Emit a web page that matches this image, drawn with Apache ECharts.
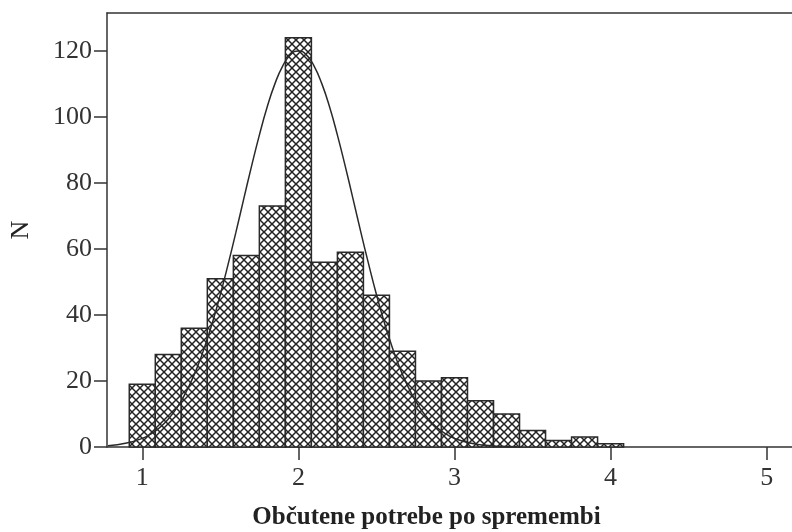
<!DOCTYPE html>
<html>
<head>
<meta charset="utf-8">
<script src="https://cdn.jsdelivr.net/npm/echarts@6/dist/echarts.min.js"></script>
<style>html,body{margin:0;padding:0;background:#fff}#c{width:792px;height:532px}</style>
</head>
<body>
<div id="c"></div>
<script>
// Histogram bins (centres) and counts
var binCenters = [1.0, 1.1667, 1.3333, 1.5, 1.6667, 1.8333, 2.0, 2.1667, 2.3333, 2.5, 2.6667, 2.8333, 3.0, 3.1667, 3.3333, 3.5, 3.6667, 3.8333, 4.0];
var binCounts  = [19, 28, 36, 51, 58, 73, 124, 56, 59, 46, 29, 20, 21, 14, 10, 5, 2, 3, 1];
var binWidth = 1 / 6;
// Normal curve points
var curveX = [0.78, 0.9, 1.0, 1.05, 1.1, 1.15, 1.2, 1.25, 1.3, 1.35, 1.4, 1.45, 1.5, 1.55, 1.6, 1.65, 1.7, 1.75, 1.8, 1.85, 1.9, 1.95, 2.0,
              2.05, 2.1, 2.15, 2.2, 2.25, 2.3, 2.35, 2.4, 2.45, 2.5, 2.55, 2.6, 2.65, 2.7, 2.75, 2.8, 2.85, 2.9, 2.95, 3.0, 3.1, 3.2, 3.3, 3.4];
var curveY = [0.4, 1.2, 2.6, 3.8, 5.4, 7.6, 10.4, 14.0, 18.5, 23.9, 30.4, 37.8, 46.2, 55.4, 65.1, 75.2, 85.1, 94.5, 103.0, 110.1, 115.5, 118.9, 120,
              118.9, 115.5, 110.1, 103.0, 94.5, 85.1, 75.2, 65.1, 55.4, 46.2, 37.8, 30.4, 23.9, 18.5, 14.0, 10.4, 7.6, 5.4, 3.8, 2.6, 1.2, 0.5, 0.2, 0.1];
var xTicks = [1, 2, 3, 4, 5];
var yTicks = [0, 20, 40, 60, 80, 100, 120];

var pat = document.createElement('canvas');
pat.width = 8; pat.height = 8;
var g = pat.getContext('2d');
g.fillStyle = '#ffffff'; g.fillRect(0, 0, 8, 8);
g.strokeStyle = '#222222'; g.lineWidth = 1.5;
[-8, 0, 8].forEach(function (o) {
  g.beginPath(); g.moveTo(o - 1, -1); g.lineTo(o + 9, 9); g.stroke();
  g.beginPath(); g.moveTo(o + 9, -1); g.lineTo(o - 1, 9); g.stroke();
});
var hatch = { image: pat, repeat: 'repeat' };

var barData = binCenters.map(function (c, i) { return [c - binWidth / 2, c + binWidth / 2, binCounts[i]]; });
var lineData = curveX.map(function (x, i) { return [x, curveY[i]]; });

var chart = echarts.init(document.getElementById('c'));
var serif = 'Liberation Serif';
var XMIN = 0.774, XMAX = 5.162;
chart.setOption({
  animation: false,
  grid: { left: 107, top: 13, right: 0, bottom: 85, outerBoundsMode: 'none', containLabel: false },
  xAxis: [{
    type: 'value', min: XMIN, max: XMAX,
    name: 'Občutene potrebe po spremembi', nameLocation: 'middle', nameGap: 58,
    nameTextStyle: { fontFamily: serif, fontWeight: 'bold', fontSize: 25, color: '#222', padding: [0, 46, 0, 0] },
    axisLine: { show: true, onZero: false, lineStyle: { color: '#333', width: 1.5 } },
    axisTick: { show: true, length: 13, customValues: xTicks, lineStyle: { color: '#333', width: 1.5 } },
    axisLabel: { customValues: xTicks, fontFamily: serif, fontSize: 26, color: '#333', margin: 18 },
    splitLine: { show: false }
  }, {
    type: 'value', position: 'top', min: XMIN, max: XMAX,
    axisLine: { show: true, onZero: false, lineStyle: { color: '#333', width: 1.5 } },
    axisTick: { show: false }, axisLabel: { show: false }, splitLine: { show: false }
  }],
  yAxis: {
    type: 'value', min: 0, max: 131.5,
    name: 'N', nameLocation: 'middle', nameGap: 73, nameRotate: 90,
    nameTextStyle: { fontFamily: serif, fontSize: 26, color: '#222' },
    axisLine: { show: true, lineStyle: { color: '#333', width: 1.5 } },
    axisTick: { show: true, length: 13, customValues: yTicks, lineStyle: { color: '#333', width: 1.5 } },
    axisLabel: { customValues: yTicks, fontFamily: serif, fontSize: 26, color: '#333', margin: 15 },
    splitLine: { show: false }
  },
  series: [
    {
      type: 'custom',
      data: barData,
      encode: { x: [0, 1], y: 2 },
      renderItem: function (params, api) {
        var p0 = api.coord([api.value(0), api.value(2)]);
        var p1 = api.coord([api.value(1), 0]);
        return {
          type: 'rect',
          shape: { x: p0[0], y: p0[1], width: p1[0] - p0[0], height: p1[1] - p0[1] },
          style: { fill: hatch, stroke: '#2a2a2a', lineWidth: 1.5 }
        };
      },
      z: 2
    },
    {
      type: 'line', data: lineData, smooth: true, showSymbol: false, symbol: 'none',
      lineStyle: { color: '#2a2a2a', width: 1.5 }, z: 5
    }
  ]
});
</script>
</body>
</html>
